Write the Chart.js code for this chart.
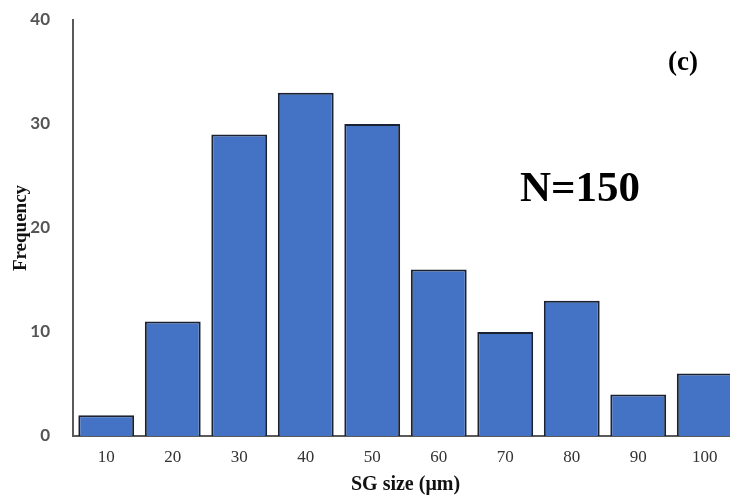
<!DOCTYPE html>
<html>
<head>
<meta charset="utf-8">
<script src="https://cdn.jsdelivr.net/npm/chart.js@4/dist/chart.umd.min.js"></script>
<style>
    html, body { margin: 0; padding: 0; background: #ffffff; overflow: hidden; }
    #wrap { width: 740px; height: 497px; position: relative; }
</style>
</head>
<body>
<div id="wrap"><canvas id="histChart" width="740" height="497"></canvas></div>
<script>
// SG size bins (um) and counts
const sizeBins = ['10', '20', '30', '40', '50', '60', '70', '80', '90', '100'];
const frequencies = [2, 11, 29, 33, 30, 16, 10, 13, 4, 6];
const yTicks = [0, 10, 20, 30, 40];
const panelLabel = '(c)';
const sampleLabel = 'N=150';

/*
    Small plugin that writes the panel letter and the sample size on the plot.
*/
const notesPlugin = {
    id: 'notes',
    afterDraw(chart) {
        const ctx = chart.ctx;
        ctx.save();
        ctx.fillStyle = '#000000';
        ctx.textAlign = 'center';
        ctx.textBaseline = 'middle';
        ctx.font = 'bold 27px "Liberation Serif"';
        ctx.fillText(panelLabel, 683, 63);
        ctx.font = 'bold 43px "Liberation Serif"';
        ctx.fillText(sampleLabel, 580, 190);
        ctx.restore();
    }
};

const canvas = document.getElementById('histChart');
const ctx = canvas.getContext('2d');
const myChart = new Chart(ctx, {
    type: 'bar',
    data: {
        labels: sizeBins,
        datasets: [
            {
                label: 'Frequency',
                data: frequencies,
                backgroundColor: '#4472C4',
                borderColor: '#1a2130',
                borderWidth: 2,
                barPercentage: 0.84,
                categoryPercentage: 1.0
            }
        ]
    },
    options: {
        responsive: false,
        animation: false,
        layout: {
            padding: { top: 20, right: 2, left: 0, bottom: 0 }
        },
        scales: {
            y: {
                min: yTicks[0],
                max: yTicks[yTicks.length - 1],
                afterBuildTicks: (scale) => {
                    scale.ticks = yTicks.map(v => ({ value: v }));
                },
                afterFit: (scale) => {
                    scale.width = 73;
                    // tick padding would otherwise push the plot top down
                    scale.paddingTop = 0;
                    scale.paddingBottom = 0;
                },
                ticks: {
                    color: '#555555',
                    padding: 15,
                    font: { family: 'Lato', size: 17, weight: 'bold' }
                },
                grid: { display: false },
                border: { display: true, color: '#5a5a5a', width: 2 },
                title: {
                    display: true,
                    text: 'Frequency',
                    color: '#111111',
                    padding: { top: 10, bottom: 0 },
                    font: { family: 'Liberation Serif', size: 19, weight: 'bold' }
                }
            },
            x: {
                afterFit: (scale) => { scale.height = 61; },
                ticks: {
                    color: '#333333',
                    padding: 3,
                    font: { family: 'Liberation Serif', size: 17 }
                },
                grid: { display: false },
                border: { display: true, color: '#5a5a5a', width: 2 },
                title: {
                    display: true,
                    text: 'SG size (μm)',
                    color: '#111111',
                    padding: { top: 6, bottom: 0 },
                    font: { family: 'Liberation Serif', size: 20, weight: 'bold' }
                }
            }
        },
        plugins: {
            legend: { display: false },
            tooltip: { enabled: false }
        }
    },
    plugins: [notesPlugin]
});
</script>
</body>
</html>
